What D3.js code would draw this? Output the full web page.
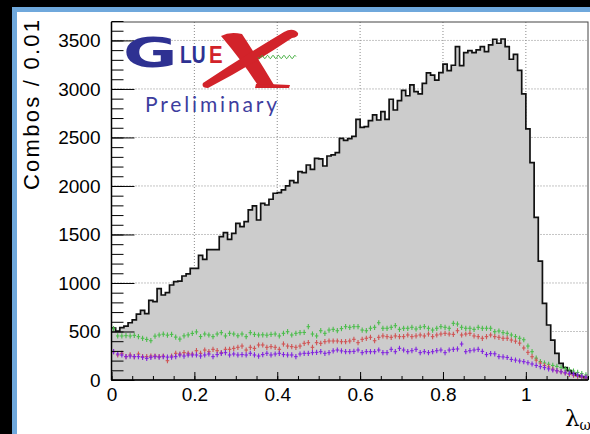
<!DOCTYPE html>
<html>
<head>
<meta charset="utf-8">
<script src="https://cdn.jsdelivr.net/npm/d3@7"></script>
<style>
  html, body { margin: 0; padding: 0; background: #000; }
  svg { display: block; }
</style>
</head>
<body>
<svg id="chart" width="590" height="434"></svg>
<script>
// ---- data: lambda_omega distribution, 0.01 wide bins from 0 to 1.15 ----
const binWidth = 0.01;
const xMax = 1.15;
const yMax = 3690;

const combos = [
  535, 505, 540, 555, 590, 620, 680, 718, 685, 820,
  807, 942, 876, 900, 979, 1013, 1020, 1072, 1093, 1151,
  1151, 1285, 1244, 1343, 1343, 1343, 1477, 1520, 1450, 1512,
  1615, 1580, 1632, 1753, 1794, 1649, 1821, 1804, 1863, 1925,
  1931, 1959, 2000, 2055, 2034, 2148, 2137, 2216, 2172, 2285,
  2280, 2206, 2309, 2320, 2343, 2491, 2470, 2488, 2512, 2687,
  2603, 2611, 2673, 2732, 2680, 2766, 2687, 2894, 2783, 2880,
  2985, 2930, 3041, 2972, 2950, 3058, 3165, 3142, 3090, 3168,
  3256, 3189, 3244, 3436, 3241, 3374, 3395, 3374, 3402, 3436,
  3384, 3454, 3512, 3471, 3515, 3436, 3306, 3357, 3192, 2950,
  2588, 2240, 1677, 1225, 790, 567, 412, 275, 172, 127,
  96, 69, 48, 34, 24
];

const greenSeries = [
  530, 454, 454, 457, 454, 460, 447, 430, 418, 405,
  452, 464, 472, 462, 470, 442, 422, 455, 465, 480,
  496, 448, 474, 464, 447, 474, 488, 454, 481, 474,
  456, 474, 447, 488, 470, 464, 466, 462, 470, 474,
  454, 481, 498, 464, 481, 488, 490, 550, 474, 454,
  508, 481, 515, 522, 508, 530, 550, 543, 550, 550,
  515, 508, 533, 543, 590, 533, 533, 543, 560, 522,
  533, 533, 543, 526, 543, 550, 533, 515, 533, 550,
  543, 533, 584, 577, 543, 533, 533, 522, 543, 533,
  533, 533, 498, 505, 488, 481, 464, 447, 430, 415,
  350, 292, 225, 190, 175, 162, 150, 140, 130, 118,
  105, 92, 78, 66, 52
];

const redSeries = [
  292, 258, 275, 241, 258, 241, 268, 241, 241, 247,
  247, 241, 247, 199, 247, 275, 268, 282, 275, 268,
  302, 275, 309, 292, 316, 302, 282, 316, 316, 326,
  337, 350, 309, 337, 326, 361, 361, 337, 344, 337,
  316, 371, 350, 344, 337, 350, 378, 385, 337, 385,
  378, 395, 402, 402, 402, 395, 395, 402, 419, 385,
  419, 430, 440, 405, 440, 454, 447, 440, 454, 447,
  447, 464, 447, 454, 464, 454, 474, 447, 464, 474,
  481, 474, 470, 508, 464, 474, 481, 454, 447, 430,
  447, 464, 447, 440, 430, 430, 412, 400, 380, 330,
  285, 240, 205, 175, 150, 135, 112, 95, 85, 72,
  58, 48, 38, 30, 22
];

const purpleSeries = [
  292, 268, 258, 241, 247, 241, 241, 234, 223, 234,
  241, 236, 241, 236, 236, 241, 258, 247, 258, 258,
  258, 247, 258, 268, 241, 262, 275, 282, 258, 268,
  258, 262, 258, 275, 258, 247, 262, 275, 258, 268,
  275, 262, 258, 258, 241, 268, 275, 275, 282, 285,
  292, 275, 282, 300, 309, 300, 292, 292, 295, 309,
  282, 292, 292, 292, 309, 282, 282, 316, 292, 326,
  309, 292, 302, 316, 282, 292, 282, 292, 302, 309,
  282, 309, 316, 320, 371, 292, 302, 309, 316, 295,
  262, 272, 270, 241, 238, 232, 212, 205, 196, 189,
  178, 165, 150, 138, 128, 115, 103, 95, 85, 75,
  68, 60, 50, 40, 30
];

const xTicks = [0, 0.2, 0.4, 0.6, 0.8, 1];
const xTickLabels = ["0", "0.2", "0.4", "0.6", "0.8", "1"];
const xMinorTicks = d3.range(0, 1.1501, 0.05);
const yTicks = [0, 500, 1000, 1500, 2000, 2500, 3000, 3500];
const yTickLabels = ["0", "500", "1000", "1500", "2000", "2500", "3000", "3500"];
const yMinorTicks = d3.range(0, 3701, 100);

const pointSeries = [
  { values: greenSeries,  color: "#4cbd4c" },
  { values: redSeries,    color: "#d05454" },
  { values: purpleSeries, color: "#8224e0" }
];

// ---- layout ----
const W = 590, H = 434;
const frame = { left: 111.5, right: 588, top: 22, bottom: 380 };
const svg = d3.select("#chart");

// canvas: black surround, blue rim, white pad
svg.append("rect").attr("width", W).attr("height", H).attr("fill", "#000");
svg.append("rect").attr("x", 12).attr("y", 7).attr("width", W).attr("height", H).attr("fill", "#6fa8dc");
svg.append("rect").attr("x", 17).attr("y", 12).attr("width", W).attr("height", H).attr("fill", "#fff");

const x = d3.scaleLinear().domain([0, xMax]).range([frame.left, frame.right]);
const y = d3.scaleLinear().domain([0, yMax]).range([frame.bottom, frame.top]);

// ---- grid ----
const grid = svg.append("g").attr("stroke", "#8a8a8a").attr("stroke-width", 1)
  .attr("stroke-dasharray", "1,2");
grid.selectAll("line.gx").data(xTicks.slice(1)).join("line")
  .attr("x1", d => x(d)).attr("x2", d => x(d))
  .attr("y1", frame.top).attr("y2", frame.bottom);
grid.selectAll("line.gy").data(yTicks.slice(1)).join("line")
  .attr("x1", frame.left).attr("x2", frame.right)
  .attr("y1", d => y(d)).attr("y2", d => y(d));

// ---- histogram ----
const steps = [];
combos.forEach((v, i) => {
  steps.push([x(i * binWidth), y(v)]);
  steps.push([x((i + 1) * binWidth), y(v)]);
});
const area = [[x(0), y(0)], ...steps, [x(xMax), y(0)]];
svg.append("path")
  .attr("d", d3.line()(area) + "Z")
  .attr("fill", "#cccccc");
svg.append("path")
  .attr("d", d3.line()(steps))
  .attr("fill", "none")
  .attr("stroke", "#111")
  .attr("stroke-width", 1.7);

// ---- point series: bin-width bar plus small vertical stroke ----
pointSeries.forEach(s => {
  const g = svg.append("g").attr("stroke", s.color).attr("stroke-width", 1.1);
  g.selectAll("line.h").data(s.values).join("line")
    .attr("x1", (d, i) => x(i * binWidth) + 0.3)
    .attr("x2", (d, i) => x((i + 1) * binWidth) - 0.3)
    .attr("y1", d => y(d)).attr("y2", d => y(d));
  g.selectAll("line.v").data(s.values).join("line")
    .attr("x1", (d, i) => x((i + 0.5) * binWidth))
    .attr("x2", (d, i) => x((i + 0.5) * binWidth))
    .attr("y1", d => y(d) - 2.6).attr("y2", d => y(d) + 2.6);
});

// ---- frame and axes ----
svg.append("rect")
  .attr("x", frame.left).attr("y", frame.top)
  .attr("width", frame.right - frame.left).attr("height", frame.bottom - frame.top)
  .attr("fill", "none").attr("stroke", "#444").attr("stroke-width", 1);

const labelFont = "'Liberation Sans', Arial, sans-serif";

const xAxis = svg.append("g").attr("transform", `translate(0,${frame.bottom})`)
  .call(d3.axisBottom(x).tickValues(xTicks).tickSize(-8).tickPadding(8)
    .tickFormat((d, i) => xTickLabels[i]));
const xMinor = svg.append("g").attr("transform", `translate(0,${frame.bottom})`)
  .call(d3.axisBottom(x).tickValues(xMinorTicks).tickSize(-4).tickFormat(""));
const yAxis = svg.append("g").attr("transform", `translate(${frame.left},0)`)
  .call(d3.axisLeft(y).tickValues(yTicks).tickSize(-23).tickPadding(11)
    .tickFormat((d, i) => yTickLabels[i]));
const yMinor = svg.append("g").attr("transform", `translate(${frame.left},0)`)
  .call(d3.axisLeft(y).tickValues(yMinorTicks).tickSize(-12).tickFormat(""));

[xAxis, xMinor, yAxis, yMinor].forEach(a => {
  a.select(".domain").remove();
  a.selectAll(".tick line").attr("stroke", "#000").attr("stroke-width", 1);
  a.selectAll("text").attr("font-family", labelFont).attr("font-size", 19).attr("fill", "#000");
});

svg.append("line").attr("x1", frame.left).attr("x2", frame.right)
  .attr("y1", frame.bottom).attr("y2", frame.bottom).attr("stroke", "#000").attr("stroke-width", 1.5);
svg.append("line").attr("x1", frame.left).attr("x2", frame.left)
  .attr("y1", frame.top).attr("y2", frame.bottom).attr("stroke", "#000").attr("stroke-width", 1.5);

// ---- axis titles ----
svg.append("text")
  .attr("transform", `translate(39,${frame.top - 2}) rotate(-90)`)
  .attr("text-anchor", "end")
  .attr("font-family", labelFont).attr("font-size", 22)
  .attr("textLength", 170).attr("lengthAdjust", "spacing")
  .text("Combos / 0.01");

const xt = svg.append("text")
  .attr("x", 565).attr("y", 426)
  .attr("font-family", "'DejaVu Serif', serif").attr("font-size", 23);
xt.append("tspan").text("λ");
xt.append("tspan").attr("font-size", 14).attr("dy", 4).text("ω");

// ---- GlueX logo ----
const blue = "#2e3192", red = "#d2232a", green = "#3aaa35";
const logo = svg.append("g");
logo.append("text")
  .attr("transform", "translate(123,67) scale(1.62,1)")
  .attr("font-family", "'DejaVu Sans', sans-serif").attr("font-weight", "bold")
  .attr("font-size", 41).attr("fill", blue).text("G");
logo.append("text")
  .attr("transform", "translate(180,63) scale(0.8,1)")
  .attr("font-family", "'Liberation Sans', sans-serif").attr("font-weight", "bold")
  .attr("font-size", 24).attr("fill", blue).text("LU");
logo.append("text")
  .attr("transform", "translate(209,63) scale(0.85,1)")
  .attr("font-family", "'Liberation Sans', sans-serif").attr("font-weight", "bold")
  .attr("font-size", 24).attr("fill", red).text("E");

// the script X: heavy back-stroke, long swept fore-stroke with a hook, and a foot
logo.append("path").attr("fill", red)
  .attr("d", "M221,36 Q230,31 242,34 Q259,60 274,85 L259,87 Q243,62 221,36 Z");
logo.append("path").attr("fill", red)
  .attr("d", "M298,33 Q293,27 284,32 Q244,56 203,83 Q201,88 208,88 Q252,65 292,38 Q299,37 298,33 Z");
logo.append("path").attr("fill", red)
  .attr("d", "M256,84 Q274,84 290,85 L289,88 Q272,88 255,88 Z");

// the wavy line through the X
const wave = d3.range(0, 39, 1).map(t => [258 + t, 57 + 2 * Math.sin(t * 1.15)]);
logo.append("path").attr("d", d3.line().curve(d3.curveBasis)(wave))
  .attr("fill", "none").attr("stroke", green).attr("stroke-width", 1);

logo.append("text")
  .attr("x", 145).attr("y", 112)
  .attr("font-family", "Lato, 'Open Sans', sans-serif").attr("font-size", 21)
  .attr("fill", "#3d3d9e")
  .attr("textLength", 132).attr("lengthAdjust", "spacing")
  .text("Preliminary");
</script>
</body>
</html>
